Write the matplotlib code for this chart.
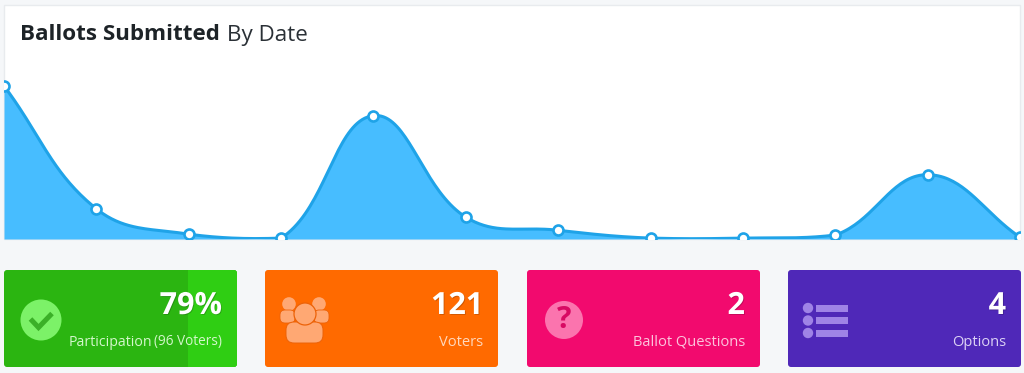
import numpy as np
import matplotlib
matplotlib.use("Agg")
import matplotlib.pyplot as plt
from matplotlib.patches import Circle, FancyBboxPatch, Rectangle
import matplotlib.patheffects as pe

plt.rcParams["font.family"] = ["Open Sans", "DejaVu Sans"]

# ballots per date
ballots = [35, 6.9, 1.1, 0.2, 28.2, 5, 2, 0.2, 0.2, 0.9, 14.7, 0.4]
participation = 79

big_values = ["79%", "121", "2", "4"]
card_labels = ["Participation", "Voters", "Ballot Questions", "Options"]
voters_note = "(96 Voters)"
card_colors = ["#2bb511", "#ff6a00", "#f20a6e", "#4f28b8"]
icon_colors = ["#7cf268", "#ffa873", "#fb74ae", "#9f83e6"]
label_colors = ["#d3f7cb", "#ffd8bd", "#fcc4dc", "#dcd2f5"]

W, H = 1024, 373
TENSION = 0.4


def bezier_curve(y, x_unit, y_unit, steps=40):
    # line smoothing like web charts: control points weighted by distance, capped at the floor
    y = np.asarray(y, dtype=float)
    n = len(y)
    c_prev = np.zeros((n, 2))
    c_next = np.zeros((n, 2))
    for i in range(n):
        p0 = np.array([max(i - 1, 0), y[max(i - 1, 0)]])
        p1 = np.array([i, y[i]])
        p2 = np.array([min(i + 1, n - 1), y[min(i + 1, n - 1)]])
        d01 = np.hypot((p1[0] - p0[0]) * x_unit, (p1[1] - p0[1]) * y_unit)
        d12 = np.hypot((p2[0] - p1[0]) * x_unit, (p2[1] - p1[1]) * y_unit)
        fa = TENSION * d01 / (d01 + d12)
        fb = TENSION * d12 / (d01 + d12)
        c_prev[i] = p1 - fa * (p2 - p0)
        c_next[i] = p1 + fb * (p2 - p0)
    c_prev[:, 1] = np.maximum(c_prev[:, 1], 0)
    c_next[:, 1] = np.maximum(c_next[:, 1], 0)
    xs, ys = [], []
    for i in range(n - 1):
        t = np.linspace(0, 1, steps)[:, None]
        a = np.array([i, y[i]])
        b = np.array([i + 1, y[i + 1]])
        pts = (1 - t) ** 3 * a + 3 * (1 - t) ** 2 * t * c_next[i] + 3 * (1 - t) * t**2 * c_prev[i + 1] + t**3 * b
        xs.append(pts[:, 0])
        ys.append(pts[:, 1])
    return np.concatenate(xs), np.concatenate(ys)


fig = plt.figure(figsize=(W / 100, H / 100), dpi=100, facecolor="#f5f7f9")

# page layer in pixels
page = fig.add_axes([0, 0, 1, 1])
page.set_xlim(0, W)
page.set_ylim(H, 0)
page.axis("off")
page.add_patch(Rectangle((4, 5), 1016, 234, fc="white", ec="#e8ebee", lw=1))
page.text(20, 35, "Ballots Submitted", fontsize=16.1, fontweight="bold",
          color="#1d2327", va="center")
page.text(227, 35, "By Date", fontsize=16.1, color="#2a3036", va="center")

# chart
ax_w, ax_h = 1016, 234
y_top = 53.5
ax = fig.add_axes([4 / W, 1 - 239 / H, ax_w / W, ax_h / H])
ax.patch.set_alpha(0)
ax.set_xlim(0, len(ballots) - 1)
ax.set_ylim(0, y_top)
ax.axis("off")
xc, yc = bezier_curve(ballots, ax_w / (len(ballots) - 1), ax_h / y_top)
ax.fill_between(xc, yc, 0, color="#47bdff", lw=0)
ax.plot(xc, yc, color="#1fa3e8", lw=2.2)
ax.plot(range(len(ballots)), ballots, "o", ms=7.2, mfc="white", mec="#1fa3e8", mew=1.9)

# cards
card_x = [4, 265, 527, 788]
card_w = 233
card_y, card_h = 270, 97
text_shadow = [pe.withSimplePatchShadow(offset=(0.6, -0.6), shadow_rgbFace="#000000", alpha=0.2)]
for i in range(4):
    x = card_x[i]
    card = FancyBboxPatch((x + 2, card_y + 2), card_w - 4, card_h - 4,
                          boxstyle="round,pad=2,rounding_size=3",
                          fc=card_colors[i], ec="none")
    page.add_patch(card)
    if i == 0:
        # lighter part past the participation share
        band = x + card_w * participation / 100
        part = Rectangle((band, card_y), x + card_w - band, card_h, fc="#2fce13", ec="none")
        page.add_patch(part)
        part.set_clip_path(card)
    right = x + card_w - 15
    page.text(right, 306, big_values[i], fontsize=22, fontweight="bold", color="white",
              ha="right", va="center", path_effects=text_shadow)
    if i == 0:
        page.text(right, 342, voters_note, fontsize=9.8, color=label_colors[i],
                  ha="right", va="center")
        page.text(right - 70, 342, card_labels[i], fontsize=10.2, color=label_colors[i],
                  ha="right", va="center")
    else:
        page.text(right, 342, card_labels[i], fontsize=10.5, color=label_colors[i],
                  ha="right", va="center")

# check icon
c = icon_colors[0]
page.add_patch(Circle((41, 320), 20.5, fc=c, ec="none"))
page.plot([30.5, 38.5, 52], [319, 327.5, 313.5], color="#3bb028", lw=3.6, solid_joinstyle="miter",
          solid_capstyle="butt")

# people icon
c = icon_colors[1]
edge = "#ec6208"
page.add_patch(Circle((289, 304), 6.8, fc=c, ec="none"))
page.add_patch(Circle((319, 304), 6.8, fc=c, ec="none"))
page.add_patch(FancyBboxPatch((281, 311), 13, 11, boxstyle="round,pad=1,rounding_size=5", fc=c, ec=edge, lw=0.6))
page.add_patch(FancyBboxPatch((315, 311), 13, 11, boxstyle="round,pad=1,rounding_size=5", fc=c, ec=edge, lw=0.6))
page.add_patch(FancyBboxPatch((287, 323), 35, 19, boxstyle="round,pad=1,rounding_size=8", fc=c, ec=edge, lw=0.7))
page.add_patch(Circle((305, 314), 11, fc=c, ec=edge, lw=0.9))

# question icon
c = icon_colors[2]
page.add_patch(Circle((564, 320), 19, fc=c, ec="none"))
page.text(564, 320, "?", fontsize=22, fontweight="bold", color="#d80a63", ha="center", va="center")

# list icon
c = icon_colors[3]
for cy in [308, 320.5, 333]:
    page.add_patch(Circle((808, cy), 5.2, fc=c, ec="none"))
    page.add_patch(Rectangle((816, cy - 3.5), 32, 7, fc=c, ec="none"))

fig.savefig("out.png", dpi=100, facecolor=fig.get_facecolor())
